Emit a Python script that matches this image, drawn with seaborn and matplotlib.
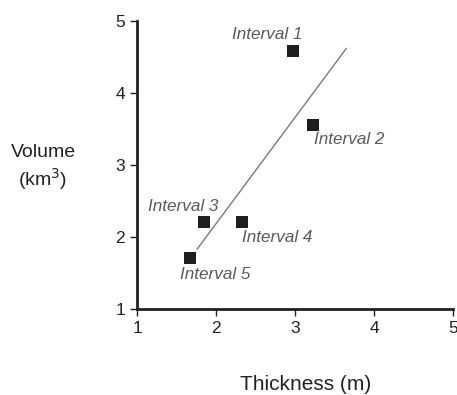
import pandas as pd
import seaborn as sns
import matplotlib.pyplot as plt

# data
labels = ['Interval 1', 'Interval 2', 'Interval 3', 'Interval 4', 'Interval 5']
thickness = [2.97, 3.23, 1.85, 2.33, 1.67]
volume = [4.58, 3.56, 2.21, 2.21, 1.71]
fit_x = [1.76, 3.65]
fit_y = [1.83, 4.62]
# label offsets in pixels (dx, dy)
offsets = [(-25, 17), (36, -15), (-21, 15), (35, -16), (25, -17)]


def main():
    sns.set_style('ticks')
    plt.rcParams['font.family'] = ['Liberation Sans', 'DejaVu Sans']

    df = pd.DataFrame({'label': labels, 'thickness': thickness, 'volume': volume})
    fit = pd.DataFrame({'x': fit_x, 'y': fit_y})

    fig = plt.figure(figsize=(4.57, 3.95), dpi=100)
    ax = fig.add_axes([0.2998, 0.2177, 0.6915, 0.7291])

    sns.lineplot(data=fit, x='x', y='y', ax=ax, color='#7a7a7a', linewidth=1)
    sns.scatterplot(data=df, x='thickness', y='volume', ax=ax, marker='s',
                    s=75, color='#1e1e1e', edgecolor='none', zorder=3)

    for lab, x, y, (dx, dy) in zip(labels, thickness, volume, offsets):
        ax.annotate(lab, (x, y), xytext=(dx, dy), textcoords='offset pixels',
                    ha='center', va='center', style='italic', fontsize=12.3,
                    color='#5a5a5a')

    ax.set_xlim(1, 5)
    ax.set_ylim(1, 5)
    ax.set_xticks([1, 2, 3, 4, 5])
    ax.set_yticks([1, 2, 3, 4, 5])
    ax.tick_params(labelsize=12.5, colors='#222222', length=5, width=1)
    for side in ['top', 'right']:
        ax.spines[side].set_visible(False)
    for side in ['left', 'bottom']:
        ax.spines[side].set_linewidth(2)
        ax.spines[side].set_color('#222222')
    ax.set_xlabel('')
    ax.set_ylabel('')

    fig.text(43 / 457, 1 - 168 / 395, 'Volume\n(km$^3$)', ha='center', va='center',
             fontsize=14, color='#222222', linespacing=1.25)
    fig.text(306 / 457, 1 - 385 / 395, 'Thickness (m)', ha='center', va='center',
             fontsize=15, color='#222222')

    fig.savefig('out.png', dpi=100)


if __name__ == "__main__":
    main()
